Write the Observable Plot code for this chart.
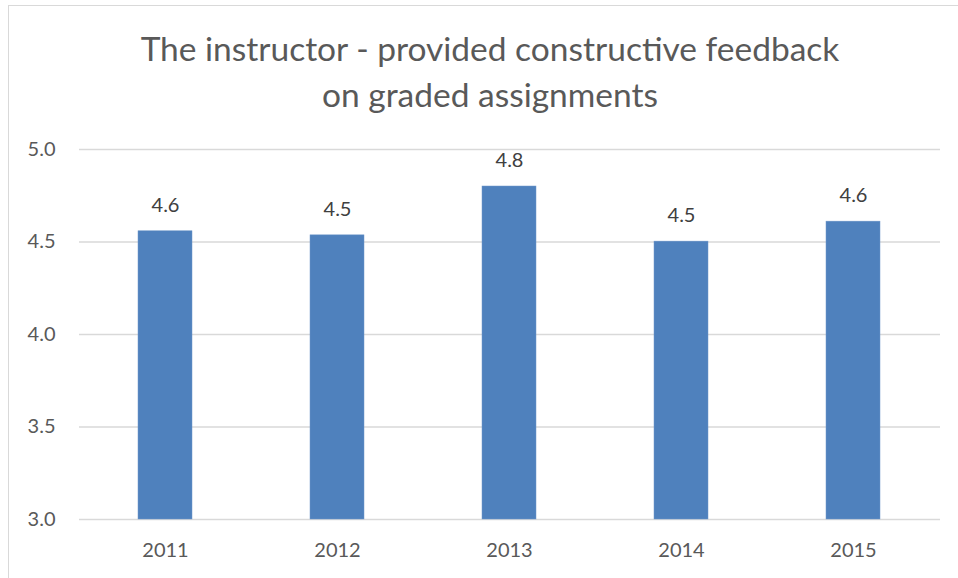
<!DOCTYPE html>
<html>
<head>
<meta charset="utf-8">
<script src="https://cdn.jsdelivr.net/npm/d3@7"></script>
<script src="https://cdn.jsdelivr.net/npm/@observablehq/plot@0.6"></script>
<style>
  html, body { margin: 0; padding: 0; background: #fff; }
  #wrap { position: relative; width: 958px; height: 578px; overflow: hidden; font-family: Lato, "Open Sans", sans-serif; }
  #frame { position: absolute; left: 8px; top: 5px; width: 1000px; height: 600px; border-left: 1.5px solid #d9d9d9; border-top: 1.5px solid #d9d9d9; box-sizing: border-box; }
  #title { position: absolute; left: 8px; width: 964px; top: 25px; text-align: center; color: #595959; font-size: 33.5px; line-height: 46px; }
  #chart { position: absolute; left: 0; top: 130px; }
</style>
</head>
<body>
<div id="wrap">
  <div id="frame"></div>
  <div id="title">The instructor - provided constructive feedback<br>on graded assignments</div>
  <div id="chart"></div>
</div>
<script>
const years = ["2011", "2012", "2013", "2014", "2015"];
const values = [4.558, 4.536, 4.80, 4.502, 4.61];
const yTicks = [3.0, 3.5, 4.0, 4.5, 5.0];

const data = years.map((year, i) => ({year, value: values[i]}));
const fmt = d3.format(".1f");

const plot = Plot.plot({
  width: 958,
  height: 448,
  marginLeft: 79,
  marginRight: 18,
  marginTop: 19,
  marginBottom: 59,
  style: {fontFamily: "Lato, 'Open Sans', sans-serif", fontSize: "20px", color: "#595959", background: "transparent"},
  x: {domain: years, paddingInner: 0.686, paddingOuter: 0.343, label: null, tickSize: 0, tickPadding: 23},
  y: {domain: [3, 5], ticks: yTicks, tickFormat: ".1f", label: null, tickSize: 0, tickPadding: 24},
  marks: [
    Plot.ruleY(yTicks, {stroke: "#d9d9d9", strokeWidth: 1.5}),
    Plot.barY(data, {x: "year", y1: 3, y2: "value", fill: "#4f81bd", stroke: "#6f97c9", strokeWidth: 0.5}),
    Plot.text(data, {x: "year", y: "value", text: d => fmt(d.value), dy: -26, fontSize: 20, fill: "#404040"})
  ]
});
document.getElementById("chart").appendChild(plot);
</script>
</body>
</html>
